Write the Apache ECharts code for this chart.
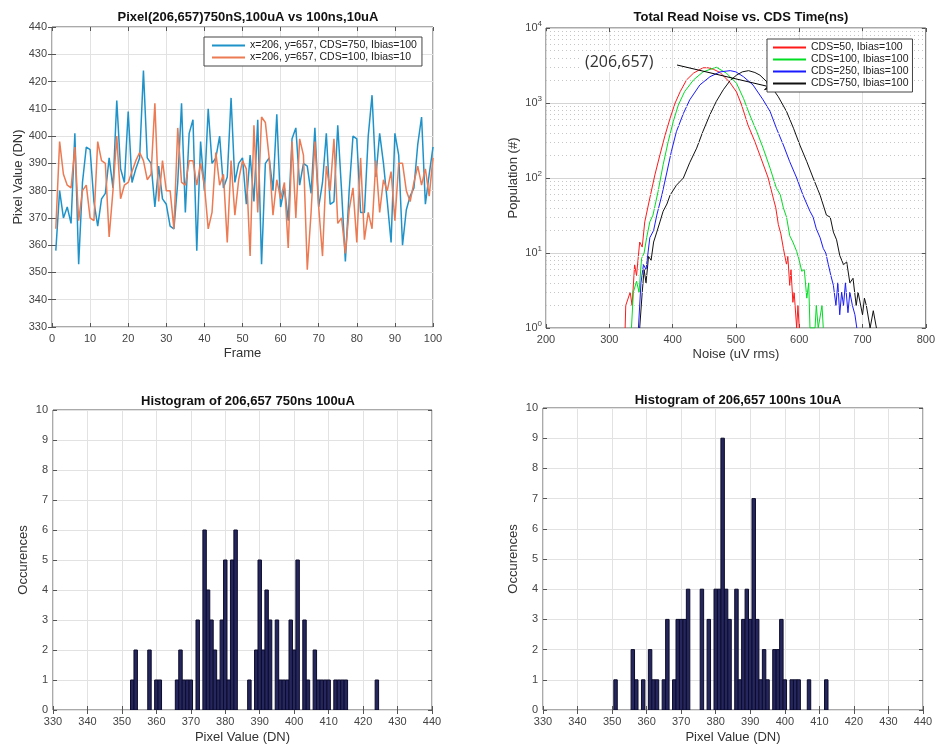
<!DOCTYPE html>
<html>
<head>
<meta charset="utf-8">
<script src="https://cdn.jsdelivr.net/npm/echarts@6/dist/echarts.min.js"></script>
<style>html,body{margin:0;padding:0;background:#fff}#c{width:938px;height:749px}</style>
</head>
<body>
<div id="c"></div>
<script>
// ---------- DATA ----------
const blueName = 'x=206, y=657, CDS=750, Ibias=100';
const orangeName = 'x=206, y=657, CDS=100, Ibias=10';
const frameStart = 1;
const blueValues = [358,380,370,374,368,401,353,383,396,395,
  376,367,377,379,392,381,413,388,383,409,
  383,388,392,424,392,390,374,389,377,375,
  367,366,383,412,372,401,406,358,398,380,
  410,390,392,400,381,385,414,383,390,392,
  375,393,376,406,353,390,392,380,408,374,
  381,369,399,403,382,390,389,379,403,374,
  383,401,375,376,404,380,354,380,400,399,
  372,372,400,415,385,401,390,376,361,401,
  393,360,373,378,381,397,407,375,386,396];
const orangeValues = [366,398,386,382,381,396,369,380,382,370,
  369,398,391,390,363,380,400,377,382,383,
  387,391,394,391,384,386,412,376,391,380,
  380,366,403,383,382,391,391,382,390,382,
  366,372,394,382,386,361,391,371,384,391,
  388,356,404,372,407,405,392,371,384,377,
  383,359,398,370,399,393,351,372,398,374,
  356,389,380,399,368,370,357,373,381,361,
  392,362,372,366,391,372,384,380,387,369,
  390,390,380,376,383,389,382,388,378,392];

const noiseNames = ['CDS=50, Ibias=100','CDS=100, Ibias=100','CDS=250, Ibias=100','CDS=750, Ibias=100'];
const noiseRed = [[325,1],[326,2],[333,3],[336,2],[340,7],[343,5],[348,14],[352,12],[356,26],[364,54],[372,110],[380,204],[388,370],[396,625],[404,1000],[412,1420],[422,2030],[433,2500],[448,2950],[456,2950],[465,2800],[475,2550],[490,1900],[501,1400],[509,940],[519,510],[530,305],[540,180],[551,100],[559,54],[563,40],[567,24],[571,18],[575,11.5],[578,12],[580,7],[582,9],[585,3.7],[587,6],[590,2.2],[592,3],[596,1],[598,2],[600,1]];
const noiseGreen = [[335,1],[338,3],[343,4.2],[347,3],[351,8.5],[355,10],[359,16],[364,26],[369,32],[377,66],[385,150],[393,305],[401,565],[409,940],[419,1420],[433,2030],[448,2600],[469,3000],[485,2500],[501,1830],[512,1150],[522,690],[533,415],[543,250],[554,135],[564,73],[570,60],[575,40],[580,30],[585,17],[590,14],[596,10.5],[600,8],[604,5.7],[608,6],[612,2.5],[615,4],[617,1],[625,1],[627,2],[630,1],[636,2],[638,1]];
const noiseBlue = [[346,1],[350,4],[354,7],[358,6],[364,16],[370,20],[375,32],[383,59],[391,120],[398,225],[406,415],[417,725],[427,1100],[443,1740],[459,2240],[475,2600],[491,2700],[500,2600],[512,2240],[527,1740],[543,1100],[554,770],[564,460],[575,275],[585,165],[596,100],[606,59],[612,45],[617,36],[622,30],[627,21],[633,16],[638,11.5],[642,10],[646,7],[650,5],[654,3.7],[658,2],[661,4],[664,1.5],[667,3],[670,2],[673,4],[677,1.6],[680,3],[684,2],[688,1.5],[691,1]];
const noiseBlack = [[348,1],[352,3],[355,6],[358,4],[362,9],[366,8],[370,14],[375,19],[380,26],[385,36],[391,45],[396,59],[406,80],[417,100],[427,160],[438,250],[448,420],[459,700],[469,1050],[480,1500],[491,2000],[501,2350],[510,2600],[520,2700],[530,2550],[538,2350],[554,1740],[567,1210],[580,770],[591,460],[601,275],[612,165],[622,100],[633,59],[643,32],[649,30],[654,19],[659,15],[664,9.3],[670,7],[675,7.6],[680,4],[685,4.6],[690,2],[693,3],[696,3],[700,1.5],[703,2.5],[706,2],[712,1],[717,1.7],[722,1]];

const hist1Values = [353,354,358,360,361,366,367,368,369,370,372,374,375,376,377,378,379,380,381,382,383,387,389,390,391,392,393,395,396,397,398,399,400,401,403,404,406,407,408,409,410,412,413,414,415,424];
const hist1Counts = [1,2,2,1,1,1,2,1,1,1,3,6,4,3,2,1,3,5,1,5,6,1,2,5,2,4,3,3,1,1,1,3,2,5,3,1,2,1,1,1,1,1,1,1,1,1];
const hist2Values = [351,356,357,359,361,362,363,365,366,368,369,370,371,372,376,378,380,381,382,383,384,386,387,388,389,390,391,392,393,394,395,397,398,399,400,402,403,404,407,412];
const hist2Counts = [1,2,1,1,2,1,1,1,3,1,3,3,3,4,4,3,4,4,9,4,3,4,1,3,4,3,7,3,1,2,1,2,2,3,1,1,1,1,1,1];

const logMinorTicks = [2,3,4,5,6,7,8,9,20,30,40,50,60,70,80,90,200,300,400,500,600,700,800,900,2000,3000,4000,5000,6000,7000,8000,9000];

// ---------- STYLE ----------
const FONT = '"Liberation Sans", Arial, sans-serif';
const gridColor = '#e2e2e2';
const boxColor = '#555';
const tickColor = '#444';

function mainX(idx, min, max, interval, name, gap) {
  return {type:'value', gridIndex: idx, min, max, interval, position:'bottom',
    name, nameLocation:'middle', nameGap: gap,
    nameTextStyle:{fontSize:13, color:'#333', fontFamily:FONT},
    axisLine:{show:false},
    axisTick:{show:true, inside:true, length:4, lineStyle:{color:boxColor}},
    axisLabel:{fontSize:11, color:tickColor, fontFamily:FONT, margin:6},
    splitLine:{show:true, lineStyle:{color:gridColor, width:1}}};
}
function topX(idx, min, max, interval, type) {
  return {type: type||'value', gridIndex: idx, min, max, interval, position:'top',
    axisLine:{show:false}, axisLabel:{show:false},
    axisTick:{show:true, inside:true, length:4, lineStyle:{color:boxColor}},
    splitLine:{show:false}};
}
function mainY(idx, min, max, interval, name, gap) {
  return {type:'value', gridIndex: idx, min, max, interval, position:'left',
    name, nameLocation:'middle', nameGap: gap, nameRotate:90,
    nameTextStyle:{fontSize:13, color:'#333', fontFamily:FONT},
    axisLine:{show:false},
    axisTick:{show:true, inside:true, length:4, lineStyle:{color:boxColor}},
    axisLabel:{fontSize:11, color:tickColor, fontFamily:FONT, margin:5},
    splitLine:{show:true, lineStyle:{color:gridColor, width:1}}};
}
function rightY(idx, min, max, interval) {
  return {type:'value', gridIndex: idx, min, max, interval, position:'right',
    axisLine:{show:false}, axisLabel:{show:false},
    axisTick:{show:true, inside:true, length:4, lineStyle:{color:boxColor}},
    splitLine:{show:false}};
}

const logY = {type:'log', logBase:10, gridIndex:1, min:1, max:10000, position:'left',
  name:'Population (#)', nameLocation:'middle', nameGap:26, nameRotate:90,
  nameTextStyle:{fontSize:13, color:'#333', fontFamily:FONT},
  axisLine:{show:false},
  axisTick:{show:true, inside:true, length:4, lineStyle:{color:boxColor}},
  axisLabel:{fontFamily:FONT, margin:4,
    formatter: v => '{b|10}{s|' + Math.round(Math.log10(v)) + '}',
    rich:{b:{fontSize:11, color:tickColor, fontFamily:FONT}, s:{fontSize:8, color:tickColor, fontFamily:FONT, padding:[0,0,9,0]}}},
  splitLine:{show:true, lineStyle:{color:'#d4d4d4', width:1}}};
const logYRight = {type:'log', logBase:10, gridIndex:1, min:1, max:10000, position:'right',
  axisLine:{show:false}, axisLabel:{show:false},
  axisTick:{show:true, inside:true, length:4, lineStyle:{color:boxColor}},
  splitLine:{show:false}};

function histRender(params, api) {
  const x = api.value(0), y = api.value(1);
  const p0 = api.coord([x - 0.5, y]);
  const p1 = api.coord([x + 0.5, 0]);
  return {type:'rect', shape:{x:p0[0], y:p0[1], width:p1[0]-p0[0], height:p1[1]-p0[1]},
    style:{fill:'#26265e', stroke:'#0b0b2a', lineWidth:1}};
}

const blueData = blueValues.map((v,i)=>[frameStart+i, v]);
const orangeData = orangeValues.map((v,i)=>[frameStart+i, v]);
const hist1Data = hist1Values.map((v,i)=>[v, hist1Counts[i]]);
const hist2Data = hist2Values.map((v,i)=>[v, hist2Counts[i]]);

const titleStyle = {fontSize:13, fontWeight:'bold', color:'#111', fontFamily:FONT};
const legendBase = {orient:'vertical', itemWidth:33, itemHeight:10, itemGap:1,
  borderColor:'#444', borderWidth:1, backgroundColor:'#fff', borderRadius:0,
  textStyle:{fontSize:10.5, color:'#222', fontFamily:FONT}, itemStyle:{opacity:0}, z:10};

const option = {
  animation:false,
  backgroundColor:'#fff',
  title:[
    {text:'Pixel(206,657)750nS,100uA vs 100ns,10uA', left:243, top:6, textAlign:'center', textStyle:titleStyle},
    {text:'Total Read Noise vs. CDS Time(ns)', left:736, top:6, textAlign:'center', textStyle:titleStyle},
    {text:'Histogram of 206,657 750ns 100uA', left:243, top:390, textAlign:'center', textStyle:titleStyle},
    {text:'Histogram of 206,657 100ns 10uA', left:733, top:389, textAlign:'center', textStyle:titleStyle}
  ],
  grid:[
    {left:52, top:27, width:381, height:300, show:true, borderColor:boxColor, borderWidth:1, backgroundColor:'#fff'},
    {left:546, top:28, width:380, height:300, show:true, borderColor:boxColor, borderWidth:1, backgroundColor:'#fff'},
    {left:53, top:410, width:379, height:300, show:true, borderColor:boxColor, borderWidth:1, backgroundColor:'#fff'},
    {left:543, top:408, width:380, height:302, show:true, borderColor:boxColor, borderWidth:1, backgroundColor:'#fff'}
  ],
  legend:[
    Object.assign({}, legendBase, {left:204, top:37, padding:[3,5,3,7], data:[blueName, orangeName]}),
    Object.assign({}, legendBase, {left:767, top:39, padding:[3,4,3,5], data:noiseNames})
  ],
  xAxis:[
    mainX(0, 0, 100, 10, 'Frame', 20),
    topX(0, 0, 100, 10),
    mainX(1, 200, 800, 100, 'Noise (uV rms)', 20),
    topX(1, 200, 800, 100),
    mainX(2, 330, 440, 10, 'Pixel Value (DN)', 21),
    topX(2, 330, 440, 10),
    mainX(3, 330, 440, 10, 'Pixel Value (DN)', 21),
    topX(3, 330, 440, 10)
  ],
  yAxis:[
    mainY(0, 330, 440, 10, 'Pixel Value (DN)', 27),
    rightY(0, 330, 440, 10),
    logY,
    logYRight,
    mainY(2, 0, 10, 1, 'Occurences', 23),
    rightY(2, 0, 10, 1),
    mainY(3, 0, 10, 1, 'Occurences', 23),
    rightY(3, 0, 10, 1)
  ],
  graphic:[
    {type:'text', left:579, top:52, z:20,
      style:{text:'(206,657)', fontSize:16, fontFamily:'"Open Sans", "Noto Sans", sans-serif', fill:'#333',
        backgroundColor:'#fff', padding:[2,6,2,6]}}
  ],
  series:[
    {name:blueName, type:'line', xAxisIndex:0, yAxisIndex:0, data:blueData, symbol:'none',
      lineStyle:{color:'#1f93c9', width:1.5}, itemStyle:{color:'#1f93c9'}},
    {name:orangeName, type:'line', xAxisIndex:0, yAxisIndex:0, data:orangeData, symbol:'none',
      lineStyle:{color:'#ec7a52', width:1.5}, itemStyle:{color:'#ec7a52'}},
    {name:'minorgrid', type:'line', xAxisIndex:2, yAxisIndex:2, data:[[200,1]], symbol:'none', silent:true,
      lineStyle:{opacity:0}, z:1,
      markLine:{silent:true, symbol:['none','none'], label:{show:false},
        lineStyle:{color:'#c6c6c6', width:1, type:[1,3]},
        data: logMinorTicks.map(v=>({yAxis:v}))}},
    {name:noiseNames[0], type:'line', xAxisIndex:2, yAxisIndex:2, data:noiseRed, symbol:'none',
      lineStyle:{color:'#ff1a1a', width:1}, itemStyle:{color:'#ff1a1a'}},
    {name:noiseNames[1], type:'line', xAxisIndex:2, yAxisIndex:2, data:noiseGreen, symbol:'none',
      lineStyle:{color:'#00dd22', width:1}, itemStyle:{color:'#00dd22'}},
    {name:noiseNames[2], type:'line', xAxisIndex:2, yAxisIndex:2, data:noiseBlue, symbol:'none',
      lineStyle:{color:'#1a1aff', width:1}, itemStyle:{color:'#1a1aff'}},
    {name:noiseNames[3], type:'line', xAxisIndex:2, yAxisIndex:2, data:noiseBlack, symbol:'none',
      lineStyle:{color:'#111', width:1}, itemStyle:{color:'#111'},
      markLine:{silent:true, symbol:['none','arrow'], symbolSize:[7,10], label:{show:false},
        lineStyle:{color:'#000', width:1, type:'solid'},
        data:[[{coord:[407,3210]},{coord:[561,1585]}]]}},
    {name:'hist1', type:'custom', xAxisIndex:4, yAxisIndex:4, data:hist1Data, renderItem:histRender,
      encode:{x:0, y:1}, clip:true},
    {name:'hist2', type:'custom', xAxisIndex:6, yAxisIndex:6, data:hist2Data, renderItem:histRender,
      encode:{x:0, y:1}, clip:true}
  ]
};

const chart = echarts.init(document.getElementById('c'), null, {renderer:'canvas'});
chart.setOption(option);
</script>
</body>
</html>
